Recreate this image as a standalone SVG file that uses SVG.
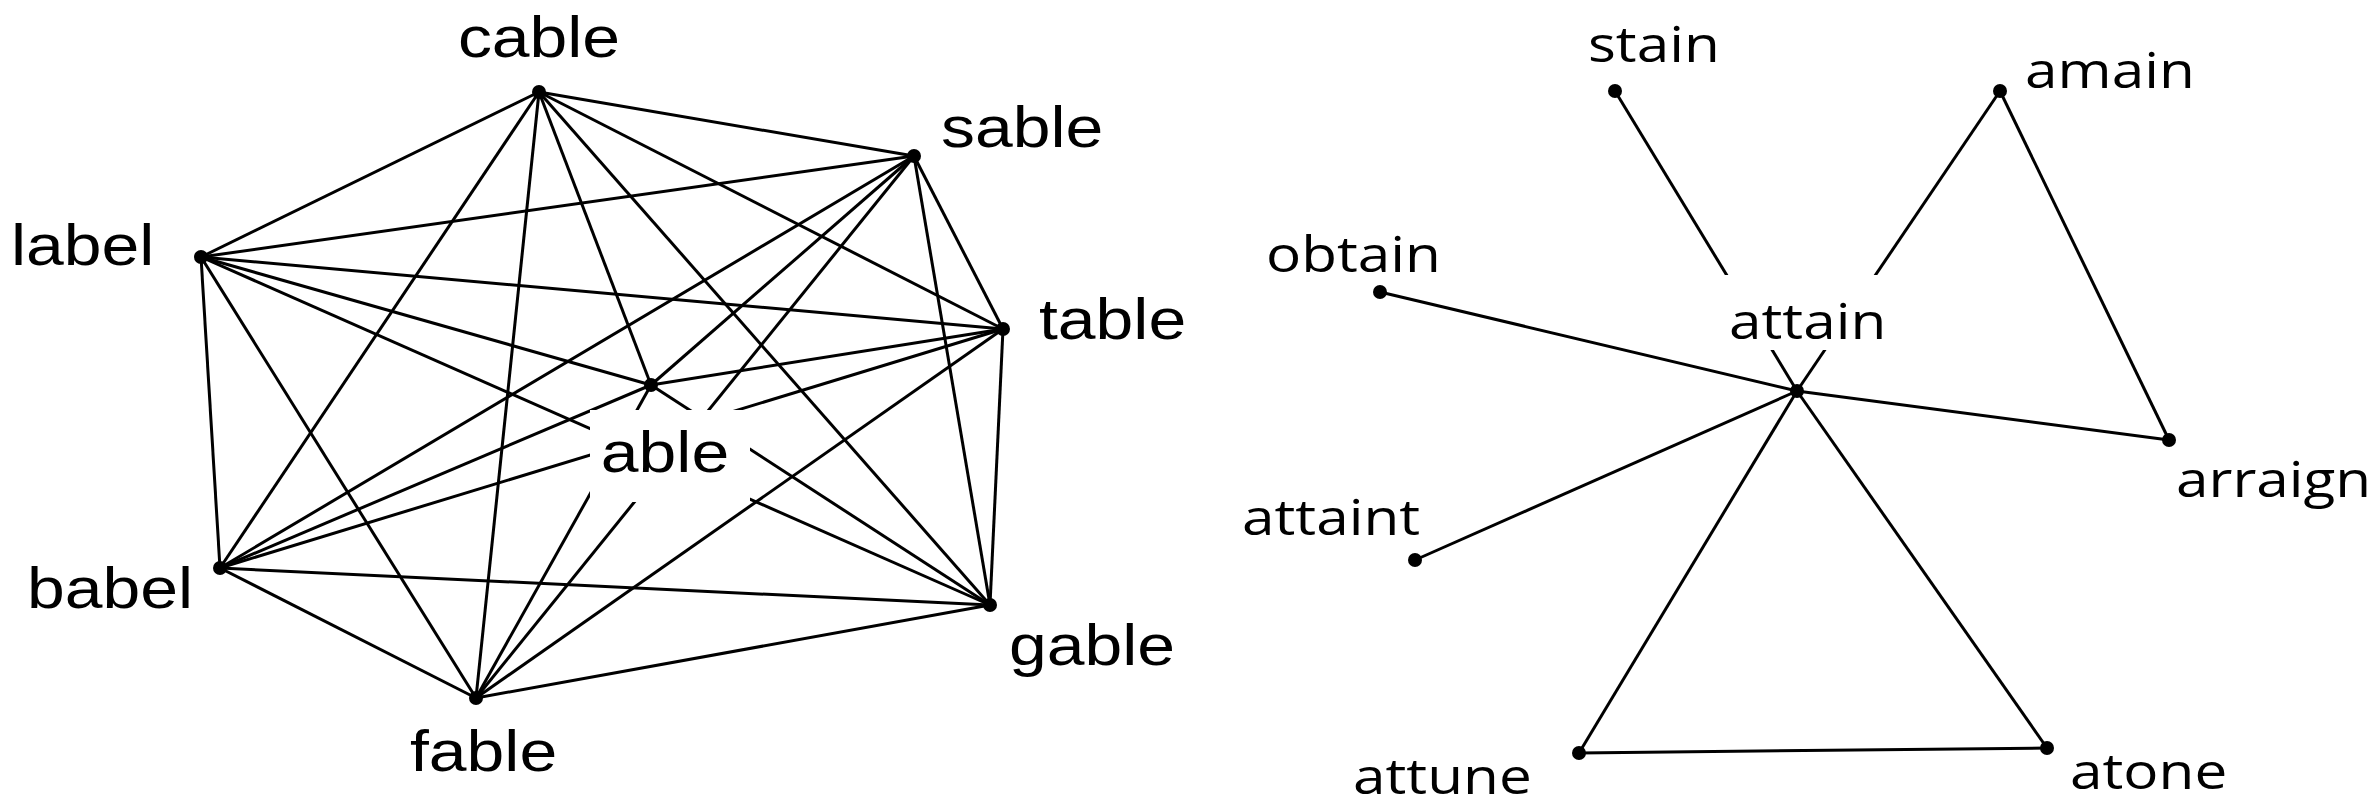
<svg xmlns="http://www.w3.org/2000/svg" width="2379" height="811" viewBox="0 0 2379 811">
<style>
.e line{stroke:#000;stroke-width:3}
.n circle{fill:#000}
.l{font-family:"Liberation Sans",Arial,sans-serif;font-size:58px;fill:#000}
.r{font-family:"Open Sans","Noto Sans",sans-serif;font-size:50px;fill:#000}
.bg{fill:#fff}
</style>
<rect width="2379" height="811" fill="#fff"/>
<g id="connectors" class="e">
<line x1="539" y1="92" x2="914" y2="156"/><line x1="539" y1="92" x2="201" y2="257"/><line x1="539" y1="92" x2="1003" y2="329"/><line x1="539" y1="92" x2="651" y2="385"/><line x1="539" y1="92" x2="220" y2="568"/><line x1="539" y1="92" x2="990" y2="605"/><line x1="539" y1="92" x2="476" y2="698"/>
<line x1="914" y1="156" x2="201" y2="257"/><line x1="914" y1="156" x2="1003" y2="329"/><line x1="914" y1="156" x2="651" y2="385"/><line x1="914" y1="156" x2="220" y2="568"/><line x1="914" y1="156" x2="990" y2="605"/><line x1="914" y1="156" x2="476" y2="698"/>
<line x1="201" y1="257" x2="1003" y2="329"/><line x1="201" y1="257" x2="651" y2="385"/><line x1="201" y1="257" x2="220" y2="568"/><line x1="201" y1="257" x2="990" y2="605"/><line x1="201" y1="257" x2="476" y2="698"/>
<line x1="1003" y1="329" x2="651" y2="385"/><line x1="1003" y1="329" x2="220" y2="568"/><line x1="1003" y1="329" x2="990" y2="605"/><line x1="1003" y1="329" x2="476" y2="698"/>
<line x1="651" y1="385" x2="220" y2="568"/><line x1="651" y1="385" x2="990" y2="605"/><line x1="651" y1="385" x2="476" y2="698"/>
<line x1="220" y1="568" x2="990" y2="605"/><line x1="220" y1="568" x2="476" y2="698"/>
<line x1="990" y1="605" x2="476" y2="698"/>
<line x1="1615" y1="91" x2="1797" y2="391"/><line x1="2000" y1="91" x2="1797" y2="391"/><line x1="2000" y1="91" x2="2169" y2="440"/><line x1="1380" y1="292" x2="1797" y2="391"/><line x1="1797" y1="391" x2="2169" y2="440"/><line x1="1415" y1="560" x2="1797" y2="391"/><line x1="1797" y1="391" x2="1579" y2="753"/><line x1="1797" y1="391" x2="2047" y2="748"/><line x1="1579" y1="753" x2="2047" y2="748"/>
</g>
<rect class="bg" x="590" y="410" width="160" height="92"/>
<rect class="bg" x="1722" y="275" width="160" height="75"/>
<g id="cable" class="n"><circle cx="539" cy="92" r="7"/><text class="l" text-anchor="middle" transform="translate(539,57) scale(1.17,1)">cable</text></g>
<g id="sable" class="n"><circle cx="914" cy="156" r="7"/><text class="l" transform="translate(941,147) scale(1.17,1)">sable</text></g>
<g id="label" class="n"><circle cx="201" cy="257" r="7"/><text class="l" transform="translate(11,265) scale(1.17,1)">label</text></g>
<g id="table" class="n"><circle cx="1003" cy="329" r="7"/><text class="l" transform="translate(1039,339) scale(1.17,1)">table</text></g>
<g id="able" class="n"><circle cx="651" cy="385" r="7"/><text class="l" text-anchor="middle" transform="translate(665,472) scale(1.17,1)">able</text></g>
<g id="babel" class="n"><circle cx="220" cy="568" r="7"/><text class="l" transform="translate(27,608) scale(1.17,1)">babel</text></g>
<g id="gable" class="n"><circle cx="990" cy="605" r="7"/><text class="l" transform="translate(1009,665) scale(1.17,1)">gable</text></g>
<g id="fable" class="n"><circle cx="476" cy="698" r="7"/><text class="l" transform="translate(410,771) scale(1.17,1)">fable</text></g>
<g id="stain" class="n"><circle cx="1615" cy="91" r="7"/><text class="r" transform="translate(1588,62) scale(1.17,1)">stain</text></g>
<g id="amain" class="n"><circle cx="2000" cy="91" r="7"/><text class="r" transform="translate(2025,88) scale(1.17,1)">amain</text></g>
<g id="obtain" class="n"><circle cx="1380" cy="292" r="7"/><text class="r" transform="translate(1266,272) scale(1.17,1)">obtain</text></g>
<g id="attain" class="n"><circle cx="1797" cy="391" r="7"/><text class="r" transform="translate(1729,339) scale(1.17,1)">attain</text></g>
<g id="arraign" class="n"><circle cx="2169" cy="440" r="7"/><text class="r" transform="translate(2176,497) scale(1.17,1)">arraign</text></g>
<g id="attaint" class="n"><circle cx="1415" cy="560" r="7"/><text class="r" transform="translate(1242,535) scale(1.17,1)">attaint</text></g>
<g id="attune" class="n"><circle cx="1579" cy="753" r="7"/><text class="r" transform="translate(1353,794) scale(1.17,1)">attune</text></g>
<g id="atone" class="n"><circle cx="2047" cy="748" r="7"/><text class="r" transform="translate(2070,789) scale(1.17,1)">atone</text></g>
</svg>
